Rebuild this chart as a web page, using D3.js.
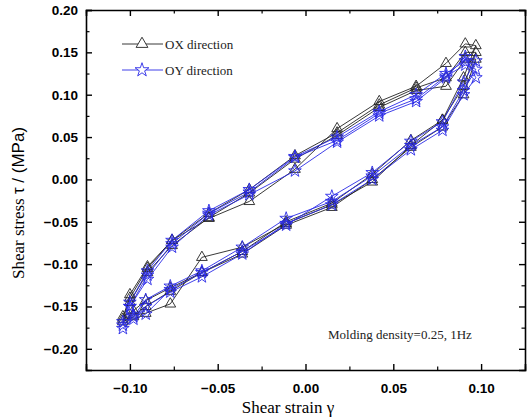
<!DOCTYPE html>
<html>
<head>
<meta charset="utf-8">
<script src="https://cdn.jsdelivr.net/npm/d3@7"></script>
<style>
  body { margin: 0; background: #fff; }
  svg { display: block; }
</style>
</head>
<body>
<div id="chart"></div>
<script>
// strain sequence for one cycle: loading branch then unloading branch
const strainPath = [
  -0.104, -0.098, -0.091, -0.077, -0.059, -0.036, -0.011, 0.015, 0.038, 0.060, 0.078, 0.090, 0.097,
  0.091, 0.080, 0.063, 0.042, 0.018, -0.006, -0.032, -0.055, -0.076, -0.090, -0.100
];

// OX direction, three cycles of shear stress
const oxCycle1 = [-0.165, -0.160, -0.158, -0.147, -0.092, -0.080, -0.052, -0.030, -0.003, 0.040, 0.070, 0.120, 0.158,
  0.160, 0.137, 0.110, 0.092, 0.060, 0.012, -0.026, -0.046, -0.072, -0.103, -0.136];
const oxCycle2 = [-0.168, -0.162, -0.150, -0.132, -0.110, -0.085, -0.050, -0.028, 0.006, 0.046, 0.070, 0.110, 0.150,
  0.150, 0.120, 0.108, 0.088, 0.055, 0.028, -0.012, -0.040, -0.072, -0.105, -0.140];
const oxCycle3 = [-0.162, -0.155, -0.143, -0.128, -0.110, -0.088, -0.054, -0.033, 0.000, 0.038, 0.062, 0.100, 0.142,
  0.142, 0.110, 0.105, 0.085, 0.052, 0.024, -0.016, -0.045, -0.078, -0.110, -0.145];

// OY direction, three cycles of shear stress
const oyCycle1 = [-0.176, -0.165, -0.159, -0.130, -0.110, -0.085, -0.054, -0.020, 0.008, 0.045, 0.068, 0.115, 0.140,
  0.140, 0.125, 0.100, 0.080, 0.050, 0.027, -0.012, -0.037, -0.072, -0.108, -0.145];
const oyCycle2 = [-0.172, -0.162, -0.142, -0.126, -0.108, -0.080, -0.046, -0.026, 0.004, 0.040, 0.062, 0.105, 0.130,
  0.135, 0.122, 0.095, 0.078, 0.046, 0.026, -0.015, -0.040, -0.076, -0.113, -0.150];
const oyCycle3 = [-0.168, -0.160, -0.150, -0.133, -0.115, -0.088, -0.052, -0.030, 0.000, 0.035, 0.058, 0.100, 0.120,
  0.145, 0.120, 0.092, 0.075, 0.044, 0.010, -0.018, -0.042, -0.080, -0.118, -0.150];

const xTicks = [-0.10, -0.05, 0.00, 0.05, 0.10];
const yTicks = [-0.20, -0.15, -0.10, -0.05, 0.00, 0.05, 0.10, 0.15, 0.20];

const margin = { top: 10, right: 5, bottom: 48, left: 86 };
const width = 530 - margin.left - margin.right;
const height = 418 - margin.top - margin.bottom;

const svg = d3.select("#chart")
  .append("svg")
  .attr("width", 530)
  .attr("height", 418)
  .append("g")
  .attr("transform", `translate(${margin.left}, ${margin.top})`);

const x = d3.scaleLinear().domain([-0.125, 0.125]).range([0, width]);
const y = d3.scaleLinear().domain([-0.225, 0.20]).range([height, 0]);

// build point lists from cycles
function toPoints(cycles) {
  const pts = [];
  cycles.forEach(c => c.forEach((v, i) => pts.push({ x: strainPath[i], y: v })));
  return pts;
}
const series = [
  { name: "OX direction", color: "#222", symbol: d3.symbolTriangle, size: 50, data: toPoints([oxCycle1, oxCycle2, oxCycle3]) },
  { name: "OY direction", color: "#2a2ae6", symbol: d3.symbolStar, size: 50, data: toPoints([oyCycle1, oyCycle2, oyCycle3]) }
];

const line = d3.line().x(d => x(d.x)).y(d => y(d.y));

series.forEach(s => {
  svg.append("path")
    .datum(s.data)
    .attr("fill", "none")
    .attr("stroke", s.color)
    .attr("stroke-width", 0.9)
    .attr("d", line);
});
series.forEach(s => {
  svg.append("g").selectAll("path")
    .data(s.data)
    .enter()
    .append("path")
    .attr("transform", d => `translate(${x(d.x)}, ${y(d.y)})`)
    .attr("d", d3.symbol().type(s.symbol).size(s.size))
    .attr("fill", "none")
    .attr("stroke", s.color)
    .attr("stroke-width", 0.9);
});

// axes with inward ticks, minor ticks in between
const xMinor = d3.range(-0.125, 0.1251, 0.025).filter(v => !xTicks.some(t => Math.abs(t - v) < 1e-6));
const yMinor = d3.range(-0.225, 0.2001, 0.025).filter(v => !yTicks.some(t => Math.abs(t - v) < 1e-6));

function styleAxis(g) {
  g.select(".domain").attr("stroke", "#000").attr("stroke-width", 1.6);
  g.selectAll(".tick line").attr("stroke", "#000").attr("stroke-width", 1.4);
  g.selectAll("text")
    .style("font-family", "Arial, 'Liberation Sans', sans-serif")
    .style("font-weight", "bold")
    .style("font-size", "13.5px")
    .attr("fill", "#000");
}

svg.append("g")
  .attr("transform", `translate(0, ${height})`)
  .call(d3.axisBottom(x).tickValues(xTicks).tickSize(-6).tickPadding(13).tickFormat(d3.format(".2f")))
  .call(styleAxis);
svg.append("g")
  .call(d3.axisTop(x).tickValues(xTicks).tickSize(-6).tickFormat(""))
  .call(styleAxis);
svg.append("g")
  .call(d3.axisLeft(y).tickValues(yTicks).tickSize(-6).tickPadding(8).tickFormat(d3.format(".2f")))
  .call(styleAxis);
svg.append("g")
  .attr("transform", `translate(${width}, 0)`)
  .call(d3.axisRight(y).tickValues(yTicks).tickSize(-6).tickFormat(""))
  .call(styleAxis);

// minor ticks
[[d3.axisBottom(x), `translate(0, ${height})`, xMinor], [d3.axisTop(x), null, xMinor],
 [d3.axisLeft(y), null, yMinor], [d3.axisRight(y), `translate(${width}, 0)`, yMinor]].forEach(([ax, tr, vals]) => {
  const g = svg.append("g");
  if (tr) g.attr("transform", tr);
  g.call(ax.tickValues(vals).tickSize(-3.5).tickFormat(""));
  g.select(".domain").remove();
  g.selectAll(".tick line").attr("stroke", "#000").attr("stroke-width", 1.2);
});

// axis titles
svg.append("text")
  .attr("x", 202)
  .attr("y", height + 43)
  .attr("text-anchor", "middle")
  .style("font-family", "'Times New Roman', 'Liberation Serif', serif")
  .style("font-size", "17px")
  .text("Shear strain γ");

const yTitle = svg.append("text")
  .attr("transform", `translate(${-62}, ${193}) rotate(-90)`)
  .attr("text-anchor", "middle")
  .style("font-size", "17px");
yTitle.append("tspan")
  .style("font-family", "'Times New Roman', 'Liberation Serif', serif")
  .text("Shear stress ");
yTitle.append("tspan")
  .style("font-family", "Arial, 'Liberation Sans', sans-serif")
  .text("τ / (MPa)");

// legend
series.forEach((s, i) => {
  const ly = 34 + i * 26;
  svg.append("line")
    .attr("x1", 36).attr("x2", 77)
    .attr("y1", ly).attr("y2", ly)
    .attr("stroke", s.color)
    .attr("stroke-width", 0.9);
  svg.append("path")
    .attr("transform", `translate(56, ${ly})`)
    .attr("d", d3.symbol().type(s.symbol).size(60))
    .attr("fill", "#fff")
    .attr("stroke", s.color)
    .attr("stroke-width", 0.9);
  svg.append("text")
    .attr("x", 79)
    .attr("y", ly + 4.5)
    .style("font-family", "'Times New Roman', 'Liberation Serif', serif")
    .style("font-size", "13px")
    .attr("fill", "#222")
    .text(s.name);
});

// annotation
svg.append("text")
  .attr("x", 242)
  .attr("y", 329)
  .style("font-family", "'Times New Roman', 'Liberation Serif', serif")
  .style("font-size", "13px")
  .attr("fill", "#222")
  .text("Molding density=0.25, 1Hz");
</script>
</body>
</html>
